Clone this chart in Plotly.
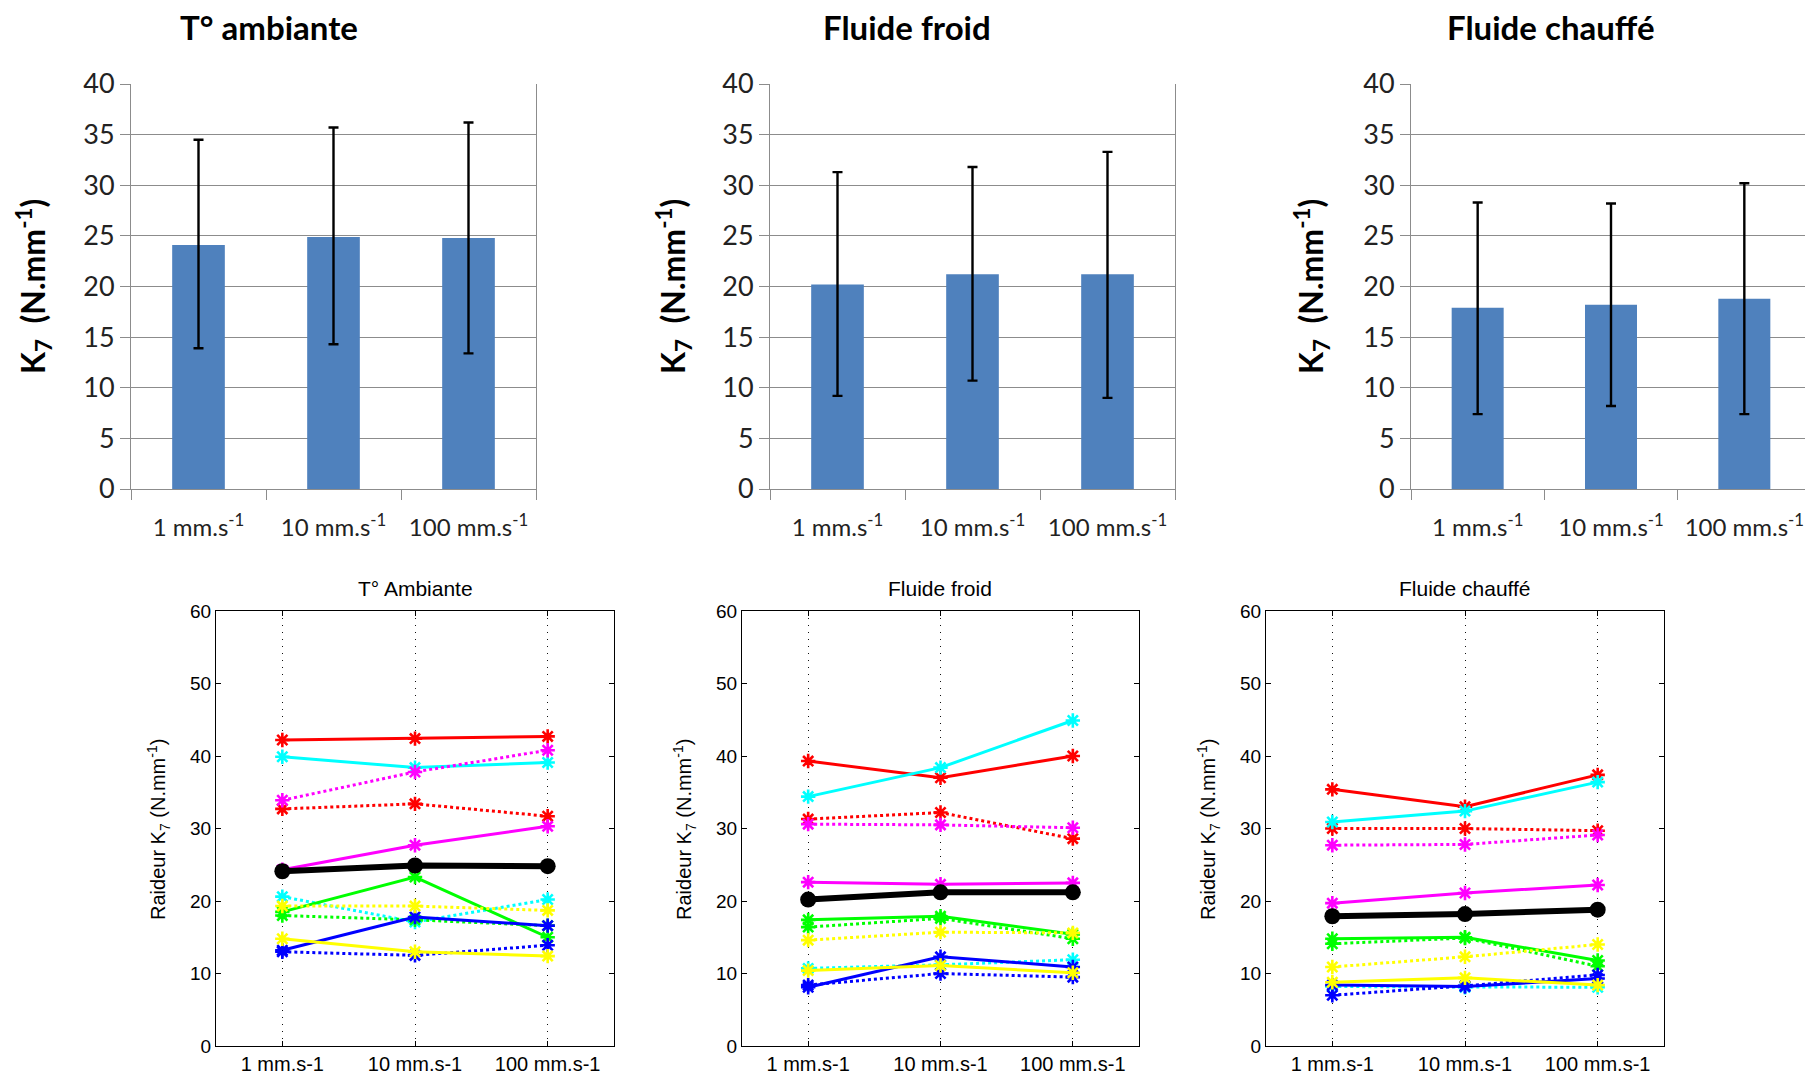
import plotly.graph_objects as go

W, H = 1813, 1075
OFF = 8  # page body margin
FW, FH = W - OFF, H - OFF

# ---------------- data ----------------
speed_labels_bar = ["1 mm.s<sup>-1</sup>", "10 mm.s<sup>-1</sup>", "100 mm.s<sup>-1</sup>"]
speed_labels_line = ["1 mm.s-1", "10 mm.s-1", "100 mm.s-1"]
titles_top = ["T° ambiante", "Fluide froid", "Fluide chauffé"]
titles_bottom = ["T° Ambiante", "Fluide froid", "Fluide chauffé"]

# mean stiffness (bars) and error-bar ends
mean_ambiante = [24.1, 24.9, 24.8]
upper_ambiante = [34.5, 35.7, 36.2]
lower_ambiante = [13.9, 14.3, 13.4]

mean_froid = [20.2, 21.2, 21.2]
upper_froid = [31.3, 31.8, 33.3]
lower_froid = [9.2, 10.7, 9.0]

mean_chauffe = [17.9, 18.2, 18.8]
upper_chauffe = [28.3, 28.2, 30.2]
lower_chauffe = [7.4, 8.2, 7.4]

# individual specimens, T° ambiante
amb_red = [42.2, 42.4, 42.7]
amb_red_dot = [32.7, 33.4, 31.7]
amb_cyan = [39.9, 38.4, 39.1]
amb_cyan_dot = [20.6, 17.1, 20.2]
amb_magenta = [24.3, 27.7, 30.3]
amb_magenta_dot = [33.9, 37.8, 40.8]
amb_green = [18.5, 23.3, 15.0]
amb_green_dot = [18.0, 17.4, 16.6]
amb_blue = [13.2, 17.8, 16.6]
amb_blue_dot = [13.0, 12.5, 13.9]
amb_yellow = [14.8, 13.0, 12.4]
amb_yellow_dot = [19.3, 19.3, 18.7]

# individual specimens, fluide froid
fro_red = [39.3, 37.0, 40.0]
fro_red_dot = [31.3, 32.2, 28.6]
fro_cyan = [34.4, 38.4, 44.9]
fro_cyan_dot = [10.7, 11.2, 11.9]
fro_magenta = [22.6, 22.3, 22.5]
fro_magenta_dot = [30.6, 30.5, 30.1]
fro_green = [17.4, 17.9, 15.4]
fro_green_dot = [16.4, 17.6, 14.8]
fro_blue = [8.1, 12.3, 10.9]
fro_blue_dot = [8.4, 10.0, 9.5]
fro_yellow = [10.4, 11.1, 10.1]
fro_yellow_dot = [14.6, 15.7, 15.6]

# individual specimens, fluide chauffé
cha_red = [35.4, 33.0, 37.4]
cha_red_dot = [30.0, 30.0, 29.7]
cha_cyan = [30.9, 32.4, 36.4]
cha_cyan_dot = [8.2, 8.1, 8.1]
cha_magenta = [19.7, 21.1, 22.2]
cha_magenta_dot = [27.7, 27.8, 29.1]
cha_green = [14.8, 15.0, 11.8]
cha_green_dot = [14.1, 14.9, 11.0]
cha_blue = [8.4, 8.2, 9.3]
cha_blue_dot = [7.0, 8.3, 9.8]
cha_yellow = [8.8, 9.4, 8.4]
cha_yellow_dot = [10.9, 12.3, 14.0]

# ---------------- build ----------------
colors = {"red": "#FF0000", "cyan": "#00FFFF", "magenta": "#FF00FF",
          "green": "#00FF00", "blue": "#0000FF", "yellow": "#FFFF00"}

specimens = [
    [("red", "solid", amb_red), ("red", "dot", amb_red_dot), ("cyan", "solid", amb_cyan),
     ("cyan", "dot", amb_cyan_dot), ("magenta", "solid", amb_magenta), ("magenta", "dot", amb_magenta_dot),
     ("green", "solid", amb_green), ("green", "dot", amb_green_dot), ("blue", "solid", amb_blue),
     ("blue", "dot", amb_blue_dot), ("yellow", "solid", amb_yellow), ("yellow", "dot", amb_yellow_dot)],
    [("red", "solid", fro_red), ("red", "dot", fro_red_dot), ("cyan", "solid", fro_cyan),
     ("cyan", "dot", fro_cyan_dot), ("magenta", "solid", fro_magenta), ("magenta", "dot", fro_magenta_dot),
     ("green", "solid", fro_green), ("green", "dot", fro_green_dot), ("blue", "solid", fro_blue),
     ("blue", "dot", fro_blue_dot), ("yellow", "solid", fro_yellow), ("yellow", "dot", fro_yellow_dot)],
    [("red", "solid", cha_red), ("red", "dot", cha_red_dot), ("cyan", "solid", cha_cyan),
     ("cyan", "dot", cha_cyan_dot), ("magenta", "solid", cha_magenta), ("magenta", "dot", cha_magenta_dot),
     ("green", "solid", cha_green), ("green", "dot", cha_green_dot), ("blue", "solid", cha_blue),
     ("blue", "dot", cha_blue_dot), ("yellow", "solid", cha_yellow), ("yellow", "dot", cha_yellow_dot)],
]
means = [mean_ambiante, mean_froid, mean_chauffe]
uppers = [upper_ambiante, upper_froid, upper_chauffe]
lowers = [lower_ambiante, lower_froid, lower_chauffe]

def px(x):
    return (x - OFF) / FW

def py(y):
    return 1 - (y - OFF) / FH

def dom_x(a, b):
    return [px(a), min(px(b), 1.0)]

def dom_y(top, bottom):
    return [py(bottom), py(top)]

top_x = [(131, 536), (770, 1175), (1411, 1811)]
top_y = (84, 489)
bot_x = [(216, 614), (742, 1139), (1266, 1664)]
bot_y = (611, 1046)

fig = go.Figure()
layout = dict(
    width=FW, height=FH, margin=dict(l=0, r=0, t=0, b=0, autoexpand=False),
    paper_bgcolor="white", plot_bgcolor="white", showlegend=False,
)
annotations = []

top_font = "Lato, Open Sans, sans-serif"
bot_font = "Liberation Sans, Arial, sans-serif"
grey = "#8C8C8C"

for i in range(3):
    # ---- top bar chart ----
    xa = f"x{i + 1}"
    ya = f"y{i + 1}"
    err_plus = [u - m for u, m in zip(uppers[i], means[i])]
    err_minus = [m - l for m, l in zip(means[i], lowers[i])]
    fig.add_trace(go.Bar(
        x=speed_labels_bar, y=means[i], xaxis=xa, yaxis=ya,
        marker=dict(color="#4F81BD", line=dict(width=0)), width=0.39,
        error_y=dict(type="data", array=err_plus, arrayminus=err_minus, symmetric=False,
                     color="#000000", thickness=2.4, width=5),
    ))
    layout[f"xaxis{i + 1 if i else ''}"] = dict(
        domain=dom_x(*top_x[i]), anchor=ya, type="category", automargin=False,
        showline=True, linecolor=grey, linewidth=1,
        ticks="outside", tickson="boundaries", ticklen=10, tickcolor=grey,
        showgrid=False, ticklabelstandoff=17,
        tickfont=dict(family=top_font, size=24, color="#222"),
    )
    layout[f"yaxis{i + 1 if i else ''}"] = dict(
        domain=dom_y(*top_y), anchor=xa, range=[0, 40], dtick=5, automargin=False,
        showline=True, mirror=True, linecolor=grey, linewidth=1,
        ticks="outside", ticklen=10, tickcolor=grey,
        showgrid=True, gridcolor=grey, gridwidth=1, zeroline=False,
        tickfont=dict(family=top_font, size=27, color="#222"),
    )
    title_cx = [269, 907, 1551][i]
    annotations.append(dict(
        text=f"<b>{titles_top[i]}</b>", x=px(title_cx), y=py(27), xref="paper", yref="paper",
        showarrow=False, xanchor="center", yanchor="middle",
        font=dict(family=top_font, size=33, color="#000"),
    ))
    ylab_x = [34, 674, 1312][i]
    annotations.append(dict(
        text="<b>K<sub>7</sub>  (N.mm<sup>-1</sup>)</b>", x=px(ylab_x), y=py(287),
        xref="paper", yref="paper", showarrow=False, textangle=-90,
        xanchor="center", yanchor="middle",
        font=dict(family=top_font, size=32, color="#000"),
    ))

    # ---- bottom line chart ----
    j = i + 4
    xb = f"x{j}"
    yb = f"y{j}"
    for cname, dash, vals in specimens[i]:
        c = colors[cname]
        fig.add_trace(go.Scatter(
            x=[1, 2, 3], y=vals, xaxis=xb, yaxis=yb, mode="lines+markers",
            line=dict(color=c, width=3, dash=dash),
            marker=dict(symbol="asterisk-open", size=12, color=c, line=dict(color=c, width=2.6)),
        ))
    fig.add_trace(go.Scatter(
        x=[1, 2, 3], y=means[i], xaxis=xb, yaxis=yb, mode="lines+markers",
        line=dict(color="#000000", width=6),
        marker=dict(symbol="circle", size=16, color="#000000"),
    ))
    layout[f"xaxis{j}"] = dict(
        domain=dom_x(*bot_x[i]), anchor=yb, range=[0.5, 3.5], automargin=False,
        tickmode="array", tickvals=[1, 2, 3], ticktext=speed_labels_line,
        showline=True, mirror="allticks", linecolor="#000", linewidth=1,
        ticks="inside", ticklen=5, tickcolor="#000",
        showgrid=True, gridcolor="#111", gridwidth=1.2, griddash="1px,6px", zeroline=False,
        tickfont=dict(family=bot_font, size=20, color="#000"),
    )
    layout[f"yaxis{j}"] = dict(
        domain=dom_y(*bot_y), anchor=xb, range=[0, 60], dtick=10, automargin=False,
        showline=True, mirror="allticks", linecolor="#000", linewidth=1,
        ticks="inside", ticklen=5, tickcolor="#000",
        showgrid=False, zeroline=False,
        tickfont=dict(family=bot_font, size=19, color="#000"),
    )
    bcx = (bot_x[i][0] + bot_x[i][1]) / 2
    annotations.append(dict(
        text=titles_bottom[i], x=px(bcx), y=py(588), xref="paper", yref="paper",
        showarrow=False, xanchor="center", yanchor="middle",
        font=dict(family=bot_font, size=21, color="#000"),
    ))
    annotations.append(dict(
        text="Raideur K<sub>7</sub> (N.mm<sup>-1</sup>)", x=px(bot_x[i][0] - 58), y=py(830),
        xref="paper", yref="paper", showarrow=False, textangle=-90,
        xanchor="center", yanchor="middle",
        font=dict(family=bot_font, size=20, color="#000"),
    ))

layout["annotations"] = annotations
fig.update_layout(**layout)
fig.write_html("out.html")
